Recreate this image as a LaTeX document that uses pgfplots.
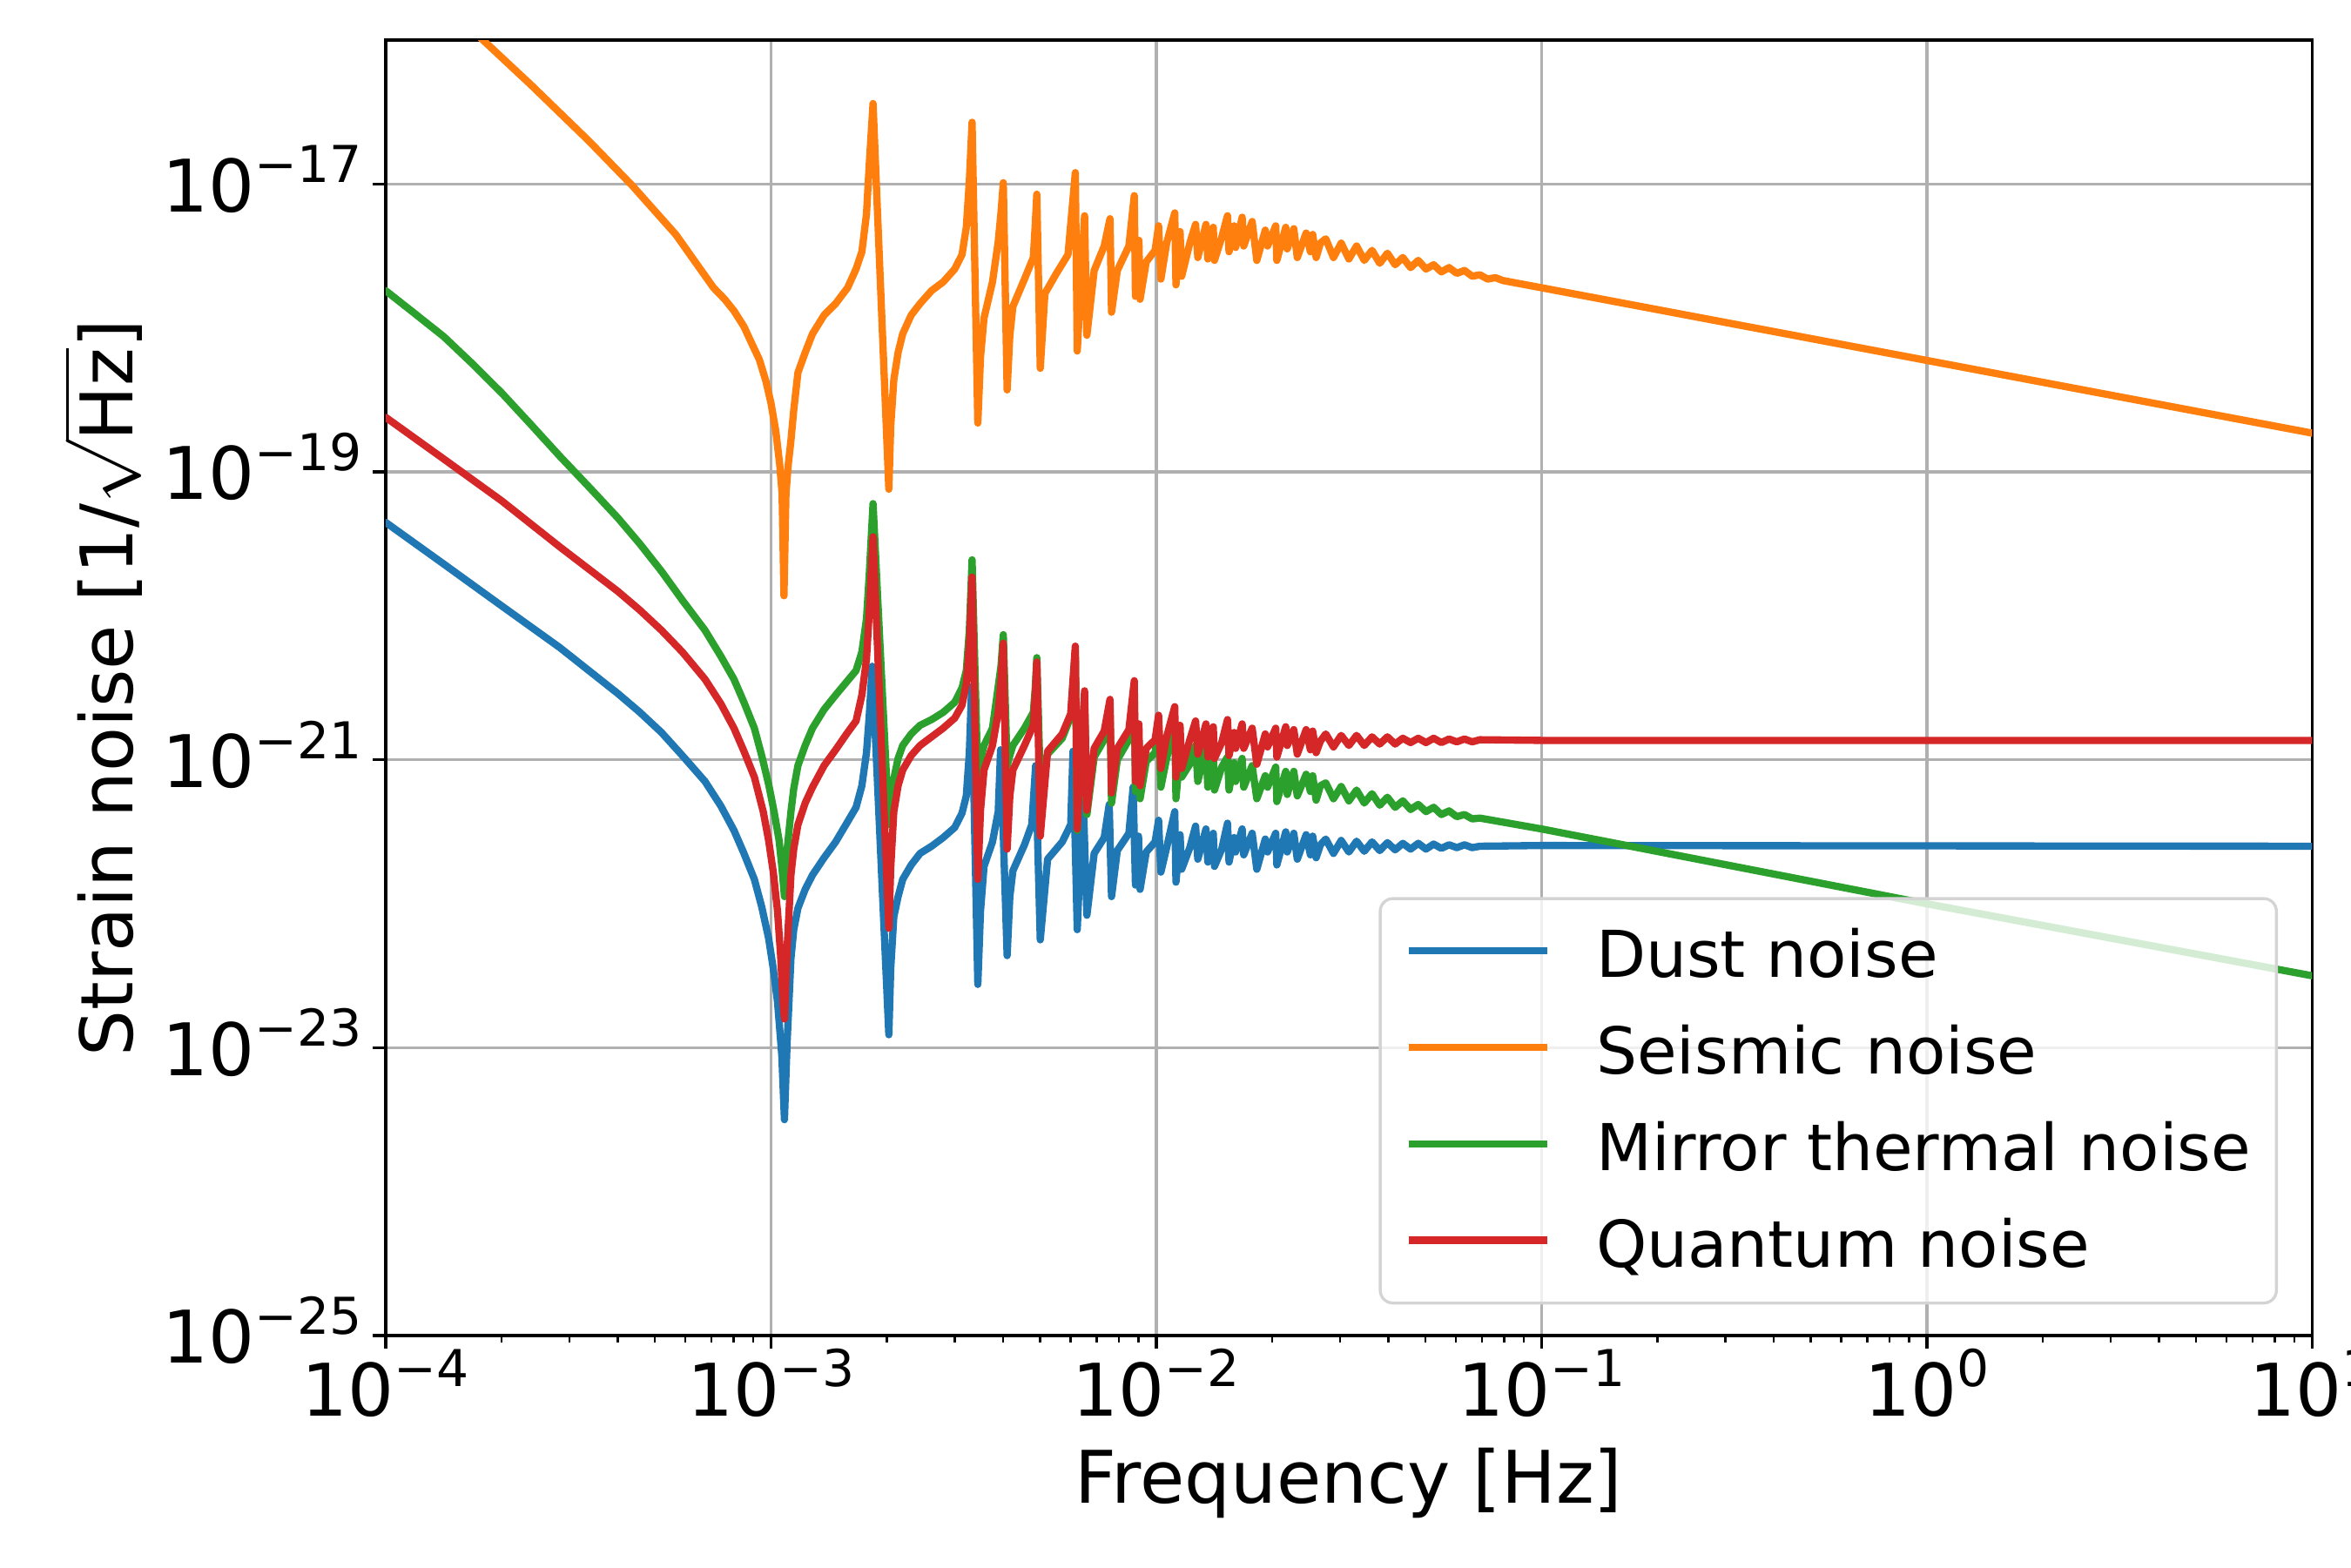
\documentclass[border=0pt]{standalone}
\usepackage{fontspec}
\setmainfont{DejaVu Sans}
\usepackage{pgfplots}
\pgfplotsset{compat=1.18}
\definecolor{c0}{HTML}{1F77B4}
\definecolor{c1}{HTML}{FF7F0E}
\definecolor{c2}{HTML}{2CA02C}
\definecolor{c3}{HTML}{D62728}
\definecolor{gridc}{HTML}{B0B0B0}
\definecolor{legc}{HTML}{D4D4D4}
\newcommand{\tl}[1]{10\raisebox{8pt}{\fontsize{14pt}{14pt}\selectfont #1}}
\begin{document}
\begin{tikzpicture}
\path[use as bounding box] (-106.3pt,-63.84pt) rectangle (541.7pt,368.16pt);
\begin{axis}[
  at={(0pt,0pt)}, anchor=south west,
  scale only axis, width=531pt, height=357.1pt,
  xmode=log, ymode=log,
  xmin=1e-4, xmax=10, ymin=1e-25, ymax=1e-16,
  xtick={1e-4,1e-3,1e-2,1e-1,1,10},
  xticklabels={\tl{−4},\tl{−3},\tl{−2},\tl{−1},\tl{0},\tl{1}},
  minor xtick={2e-4,3e-4,4e-4,5e-4,6e-4,7e-4,8e-4,9e-4,2e-3,3e-3,4e-3,5e-3,6e-3,7e-3,8e-3,9e-3,0.02,0.03,0.04,0.05,0.06,0.07,0.08,0.09,0.2,0.3,0.4,0.5,0.6,0.7,0.8,0.9,2,3,4,5,6,7,8,9},
  ytick={1e-25,1e-23,1e-21,1e-19,1e-17},
  yticklabels={\tl{−25},\tl{−23},\tl{−21},\tl{−19},\tl{−17}},
  tick align=outside, tick pos=left,
  major tick length=3.5pt, minor tick length=2pt,
  tick style={black, line width=0.8pt},
  minor tick style={black, line width=0.6pt},
  axis line style={line width=0.8pt},
  grid=major, major grid style={gridc, line width=0.8pt},
  tick label style={font=\fontsize{20pt}{24pt}\selectfont, inner sep=0pt},
  xticklabel style={anchor=base, yshift=-18.6pt},
  yticklabel style={anchor=base east, xshift=-2.8pt, yshift=-7.6pt},
  every axis x label/.style={at={(axis description cs:0.5,0)}, anchor=base, yshift=-46.3pt, font=\fontsize{20pt}{24pt}\selectfont},
  every axis y label/.style={at={(axis description cs:0,0.5)}, xshift=-69.8pt, rotate=90, anchor=base, font=\fontsize{20pt}{24pt}\selectfont},
  xlabel={Frequency [Hz]},
  ylabel={Strain noise [1/$\sqrt{\mbox{Hz}}$]},
  legend cell align=left,
  legend image code/.code={\path[draw=none,fill=none] (0pt,-11.3pt) rectangle (38pt,8.4pt); \draw[#1, line cap=butt] (0pt,0pt) -- (38pt,0pt);},
  legend style={at={(0.9822,0.024)}, anchor=south east,
    draw=legc, line width=0.8pt, rounded corners=3.5pt,
    fill=white, fill opacity=0.8, text opacity=1,
    inner xsep=7pt, inner ysep=6pt,
    row sep=6.9pt, column sep=12.5pt,
    font=\fontsize{17.8pt}{21pt}\selectfont,
    nodes={inner sep=0pt, text height=14.6pt, text depth=0pt},
    cells={anchor=west}},
  every axis plot/.append style={line width=2pt, line join=round, line cap=round},
]
\addplot[c0] coordinates {
(1e-4,4.467e-20) (1.416e-4,2.291e-20) (2.000e-4,1.175e-20) (2.831e-4,6.03e-21) (4.009e-4,2.884e-21) (4.571e-4,2.138e-21) (5.200e-4,1.549e-21) (5.888e-4,1.072e-21) (6.745e-4,7.08e-22) (7.413e-4,4.786e-22) (8.017e-4,3.236e-22) (8.511e-4,2.239e-22) (9.057e-4,1.479e-22) (9.462e-4,9.55e-23) (9.863e-4,5.75e-23) (1.014e-3,3.548e-23) (1.040e-3,2.089e-23) (1.067e-3,8.91e-24) (1.084e-3,3.162e-24) (1.102e-3,1.122e-23) (1.127e-3,4.169e-23) (1.146e-3,6.61e-23) (1.175e-3,9.33e-23) (1.227e-3,1.259e-22) (1.282e-3,1.585e-22) (1.374e-3,2.089e-22) (1.472e-3,2.692e-22) (1.581e-3,3.715e-22) (1.663e-3,4.677e-22) (1.722e-3,6.61e-22) (1.770e-3,1.122e-21) (1.799e-3,1.995e-21) (1.832e-3,4.467e-21)
(2.023e-3,1.230e-23) (2.046e-3,3.548e-23) (2.084e-3,8.13e-23) (2.138e-3,1.122e-22) (2.198e-3,1.479e-22) (2.312e-3,1.862e-22) (2.438e-3,2.239e-22) (2.612e-3,2.512e-22) (2.799e-3,2.884e-22) (2.999e-3,3.388e-22) (3.133e-3,4.266e-22) (3.214e-3,5.62e-22) (3.273e-3,1.122e-21) (3.319e-3,3.236e-21)
(3.443e-3,2.754e-23) (3.499e-3,8.91e-23) (3.573e-3,1.820e-22) (3.758e-3,2.692e-22) (3.890e-3,4.365e-22) (3.945e-3,1.175e-21) (4.102e-3,4.365e-23) (4.169e-3,1.122e-22) (4.246e-3,1.698e-22) (4.550e-3,2.570e-22) (4.753e-3,3.548e-22) (4.864e-3,9.12e-22) (5.000e-3,5.62e-23) (5.224e-3,2.042e-22) (5.702e-3,2.692e-22) (5.998e-3,3.548e-22) (6.081e-3,1.148e-21) (6.237e-3,6.61e-23) (6.457e-3,5.89e-22) (6.607e-3,8.32e-23) (6.902e-3,2.239e-22) (7.328e-3,2.884e-22) (7.551e-3,4.898e-22) (7.656e-3,1.122e-22) (7.925e-3,2.344e-22) (8.492e-3,3.090e-22) (8.710e-3,6.46e-22) (8.831e-3,1.349e-22) (8.995e-3,2.951e-22) (9.078e-3,1.259e-22) (9.419e-3,2.291e-22) (9.931e-3,2.692e-22) (1.014e-2,3.802e-22) (1.028e-2,1.660e-22) (1.064e-2,2.455e-22) (1.117e-2,4.365e-22) (1.125e-2,1.413e-22) (1.153e-2,3.020e-22) (1.164e-2,1.738e-22) (1.222e-2,2.455e-22) (1.265e-2,3.467e-22) (1.282e-2,2.042e-22) (1.346e-2,3.311e-22) (1.361e-2,1.950e-22) (1.406e-2,3.090e-22) (1.416e-2,1.820e-22) (1.479e-2,2.399e-22) (1.531e-2,3.631e-22) (1.545e-2,1.950e-22) (1.592e-2,2.884e-22) (1.607e-2,2.291e-22) (1.671e-2,3.311e-22) (1.687e-2,2.188e-22) (1.774e-2,3.090e-22) (1.824e-2,1.738e-22) (1.919e-2,2.818e-22) (1.945e-2,2.291e-22) (2.042e-2,3.090e-22) (2.056e-2,1.862e-22) (2.168e-2,3.162e-22) (2.188e-2,2.291e-22) (2.275e-2,3.090e-22) (2.323e-2,2.042e-22) (2.449e-2,3.020e-22) (2.512e-2,2.188e-22) (2.547e-2,2.951e-22) (2.600e-2,2.089e-22) (2.667e-2,2.570e-22)
(2.754e-2,2.818e-22) (2.884e-2,2.239e-22) (3.020e-2,2.754e-22) (3.162e-2,2.291e-22) (3.311e-2,2.723e-22) (3.467e-2,2.317e-22) (3.631e-2,2.692e-22) (3.802e-2,2.344e-22) (3.981e-2,2.661e-22) (4.169e-2,2.371e-22) (4.365e-2,2.630e-22) (4.571e-2,2.399e-22) (4.786e-2,2.630e-22) (5.012e-2,2.399e-22) (5.248e-2,2.600e-22) (5.495e-2,2.427e-22) (5.754e-2,2.570e-22) (6.026e-2,2.455e-22) (6.310e-2,2.570e-22) (6.607e-2,2.455e-22) (6.918e-2,2.512e-22) (0.1,2.541e-22) (10,2.512e-22)
};
\addlegendentry{Dust noise}
\addplot[c1] coordinates {
(1e-4,4.27e-16) (1.742e-4,1.072e-16) (2.382e-4,4.90e-17) (3.365e-4,2.00e-17) (4.365e-4,9.77e-18) (5.662e-4,4.47e-18) (7.096e-4,1.905e-18) (7.586e-4,1.585e-18) (8.017e-4,1.318e-18) (8.511e-4,1.023e-18) (8.892e-4,7.94e-19) (9.333e-4,6.03e-19) (9.705e-4,4.27e-19) (1.000e-3,3.02e-19) (1.030e-3,1.905e-19) (1.054e-3,1.122e-19) (1.069e-3,7.08e-20) (1.081e-3,1.380e-20) (1.094e-3,7.08e-20) (1.109e-3,1.122e-19) (1.127e-3,1.660e-19) (1.146e-3,2.692e-19) (1.175e-3,4.90e-19) (1.227e-3,6.76e-19) (1.282e-3,9.12e-19) (1.374e-3,1.230e-18) (1.472e-3,1.479e-18) (1.581e-3,1.905e-18) (1.663e-3,2.570e-18) (1.722e-3,3.388e-18) (1.770e-3,6.17e-18) (1.799e-3,1.349e-17) (1.841e-3,3.63e-17)
(2.023e-3,7.59e-20) (2.046e-3,2.089e-19) (2.084e-3,4.37e-19) (2.138e-3,6.76e-19) (2.198e-3,9.12e-19) (2.312e-3,1.230e-18) (2.438e-3,1.479e-18) (2.612e-3,1.820e-18) (2.799e-3,2.089e-18) (2.999e-3,2.570e-18) (3.133e-3,3.236e-18) (3.214e-3,5.01e-18) (3.273e-3,1.047e-17) (3.327e-3,2.69e-17)
(3.443e-3,2.188e-19) (3.499e-3,6.31e-19) (3.573e-3,1.175e-18) (3.758e-3,2.089e-18) (3.890e-3,3.98e-18) (3.954e-3,6.31e-18) (4.009e-3,1.023e-17) (4.102e-3,3.72e-19) (4.169e-3,8.91e-19) (4.246e-3,1.413e-18) (4.550e-3,2.188e-18) (4.797e-3,3.09e-18) (4.853e-3,5.25e-18) (4.898e-3,8.51e-18) (5.000e-3,5.25e-19) (5.140e-3,1.738e-18) (5.508e-3,2.399e-18) (5.902e-3,3.236e-18) (6.166e-3,1.202e-17) (6.237e-3,6.92e-19) (6.516e-3,6.03e-18) (6.607e-3,8.91e-19) (6.902e-3,2.512e-18) (7.328e-3,3.715e-18) (7.586e-3,5.75e-18) (7.656e-3,1.288e-18) (7.925e-3,2.512e-18) (8.492e-3,3.715e-18) (8.770e-3,8.32e-18) (8.831e-3,1.660e-18) (9.016e-3,4.07e-18) (9.078e-3,1.585e-18) (9.419e-3,2.884e-18) (9.931e-3,3.467e-18) (1.014e-2,5.13e-18) (1.028e-2,2.188e-18) (1.064e-2,3.89e-18) (1.117e-2,6.31e-18) (1.125e-2,1.995e-18) (1.153e-2,4.68e-18) (1.164e-2,2.291e-18) (1.222e-2,3.89e-18) (1.265e-2,5.25e-18) (1.282e-2,3.09e-18) (1.346e-2,5.25e-18) (1.361e-2,3.02e-18) (1.406e-2,5.01e-18) (1.416e-2,2.951e-18) (1.479e-2,4.27e-18) (1.531e-2,6.03e-18) (1.545e-2,3.39e-18) (1.592e-2,5.13e-18) (1.607e-2,3.63e-18) (1.671e-2,5.89e-18) (1.687e-2,3.715e-18) (1.774e-2,5.50e-18) (1.824e-2,2.951e-18) (1.919e-2,4.79e-18) (1.945e-2,3.715e-18) (2.042e-2,5.13e-18) (2.056e-2,2.951e-18) (2.168e-2,5.01e-18) (2.188e-2,3.55e-18) (2.275e-2,4.90e-18) (2.323e-2,3.09e-18) (2.449e-2,4.57e-18) (2.512e-2,3.39e-18) (2.547e-2,4.47e-18) (2.600e-2,3.09e-18) (2.667e-2,3.89e-18)
(2.754e-2,4.169e-18) (2.884e-2,3.090e-18) (3.020e-2,3.890e-18) (3.162e-2,3.020e-18) (3.311e-2,3.715e-18) (3.467e-2,2.951e-18) (3.631e-2,3.467e-18) (3.802e-2,2.818e-18) (3.981e-2,3.311e-18) (4.169e-2,2.754e-18) (4.365e-2,3.090e-18) (4.571e-2,2.630e-18) (4.786e-2,2.951e-18) (5.012e-2,2.570e-18) (5.248e-2,2.754e-18) (5.495e-2,2.455e-18) (5.754e-2,2.630e-18) (6.026e-2,2.399e-18) (6.310e-2,2.512e-18) (6.607e-2,2.291e-18) (6.918e-2,2.344e-18) (7.244e-2,2.188e-18) (7.586e-2,2.239e-18) (7.943e-2,2.138e-18) (0.1,1.905e-18) (1,5.957e-19) (10,1.862e-19)
};
\addlegendentry{Seismic noise}
\addplot[c2] coordinates {
(1e-4,1.820e-18) (1.191e-4,1.259e-18) (1.416e-4,8.71e-19) (1.683e-4,5.62e-19) (2.000e-4,3.548e-19) (2.382e-4,2.138e-19) (2.831e-4,1.288e-19) (3.388e-4,7.76e-20) (4.009e-4,4.786e-20) (4.571e-4,3.162e-20) (5.200e-4,2.042e-20) (5.888e-4,1.288e-20) (6.745e-4,7.94e-21) (7.413e-4,5.25e-21) (8.017e-4,3.631e-21) (8.511e-4,2.512e-21) (9.057e-4,1.660e-21) (9.462e-4,1.072e-21) (9.863e-4,6.76e-22) (1.019e-3,4.365e-22) (1.050e-3,2.754e-22) (1.069e-3,1.738e-22) (1.084e-3,1.122e-22) (1.102e-3,2.399e-22) (1.127e-3,4.365e-22) (1.146e-3,6.31e-22) (1.175e-3,9.12e-22) (1.227e-3,1.259e-21) (1.282e-3,1.660e-21) (1.374e-3,2.239e-21) (1.472e-3,2.818e-21) (1.581e-3,3.548e-21) (1.663e-3,4.169e-21) (1.722e-3,5.62e-21) (1.770e-3,9.55e-21) (1.799e-3,1.905e-20) (1.841e-3,6.03e-20)
(2.023e-3,3.548e-22) (2.046e-3,5.25e-22) (2.084e-3,7.41e-22) (2.138e-3,1.023e-21) (2.198e-3,1.259e-21) (2.312e-3,1.514e-21) (2.438e-3,1.738e-21) (2.612e-3,1.905e-21) (2.799e-3,2.138e-21) (2.999e-3,2.512e-21) (3.133e-3,3.162e-21) (3.214e-3,4.169e-21) (3.273e-3,7.94e-21) (3.327e-3,2.455e-20)
(3.443e-3,7.41e-22) (3.499e-3,1.0e-21) (3.573e-3,1.259e-21) (3.758e-3,1.660e-21) (3.890e-3,3.236e-21) (3.954e-3,4.467e-21) (4.009e-3,7.41e-21) (4.102e-3,9.12e-22) (4.169e-3,1.072e-21) (4.246e-3,1.259e-21) (4.550e-3,1.660e-21) (4.797e-3,2.138e-21) (4.853e-3,3.162e-21) (4.898e-3,5.13e-21) (5.000e-3,7.08e-22) (5.224e-3,1.096e-21) (5.702e-3,1.413e-21) (5.998e-3,1.995e-21) (6.166e-3,5.75e-21) (6.237e-3,3.236e-22) (6.516e-3,2.754e-21) (6.607e-3,4.169e-22) (6.902e-3,1.047e-21) (7.328e-3,1.380e-21) (7.586e-3,2.399e-21) (7.656e-3,5.01e-22) (7.925e-3,1.000e-21) (8.492e-3,1.380e-21) (8.770e-3,3.162e-21) (8.831e-3,6.03e-22) (9.016e-3,1.413e-21) (9.078e-3,5.37e-22) (9.419e-3,9.77e-22) (9.931e-3,1.122e-21) (1.014e-2,1.660e-21) (1.028e-2,6.46e-22) (1.064e-2,1.023e-21) (1.117e-2,1.778e-21) (1.125e-2,5.37e-22) (1.153e-2,1.122e-21) (1.164e-2,7.59e-22) (1.222e-2,9.33e-22) (1.265e-2,1.259e-21) (1.282e-2,7.08e-22) (1.346e-2,1.202e-21) (1.361e-2,6.46e-22) (1.406e-2,1.122e-21) (1.416e-2,6.17e-22) (1.479e-2,8.91e-22) (1.531e-2,1.047e-21) (1.545e-2,6.17e-22) (1.592e-2,9.55e-22) (1.607e-2,7.08e-22) (1.671e-2,1.023e-21) (1.687e-2,6.46e-22) (1.774e-2,9.12e-22) (1.824e-2,5.37e-22) (1.919e-2,7.76e-22) (1.945e-2,6.46e-22) (2.042e-2,8.91e-22) (2.056e-2,5.13e-22) (2.168e-2,8.32e-22) (2.188e-2,5.75e-22) (2.275e-2,8.32e-22) (2.323e-2,5.62e-22) (2.449e-2,7.94e-22) (2.512e-2,6.03e-22) (2.547e-2,7.76e-22) (2.600e-2,5.25e-22) (2.667e-2,6.61e-22)
(2.754e-2,6.92e-22) (2.884e-2,5.37e-22) (3.020e-2,6.53e-22) (3.162e-2,5.19e-22) (3.311e-2,6.17e-22) (3.467e-2,5.01e-22) (3.631e-2,5.82e-22) (3.802e-2,4.84e-22) (3.981e-2,5.50e-22) (4.169e-2,4.68e-22) (4.365e-2,5.19e-22) (4.571e-2,4.52e-22) (4.786e-2,4.90e-22) (5.012e-2,4.37e-22) (5.248e-2,4.68e-22) (5.495e-2,4.17e-22) (5.754e-2,4.42e-22) (6.026e-2,4.03e-22) (6.310e-2,4.17e-22) (6.607e-2,3.89e-22) (6.918e-2,3.94e-22) (0.1,3.311e-22) (0.3162,1.82e-22) (1,1.0e-22) (10,3.162e-23)
};
\addlegendentry{Mirror thermal noise}
\addplot[c3] coordinates {
(1e-4,2.399e-19) (1.416e-4,1.230e-19) (2.000e-4,6.31e-20) (2.831e-4,3.020e-20) (4.009e-4,1.479e-20) (4.571e-4,1.096e-20) (5.200e-4,7.94e-21) (5.888e-4,5.62e-21) (6.745e-4,3.631e-21) (7.413e-4,2.455e-21) (8.017e-4,1.660e-21) (8.511e-4,1.148e-21) (9.057e-4,7.59e-22) (9.550e-4,4.365e-22) (9.863e-4,2.754e-22) (1.014e-3,1.660e-22) (1.040e-3,8.91e-23) (1.059e-3,4.467e-23) (1.076e-3,1.995e-23) (1.084e-3,1.585e-23) (1.102e-3,5.01e-23) (1.127e-3,1.585e-22) (1.146e-3,2.399e-22) (1.175e-3,3.548e-22) (1.227e-3,5.01e-22) (1.282e-3,6.46e-22) (1.374e-3,9.12e-22) (1.472e-3,1.175e-21) (1.581e-3,1.549e-21) (1.663e-3,1.862e-21) (1.722e-3,2.818e-21) (1.770e-3,5.01e-21) (1.799e-3,1.047e-20) (1.841e-3,3.548e-20)
(2.023e-3,6.76e-23) (2.046e-3,1.778e-22) (2.084e-3,4.365e-22) (2.138e-3,6.61e-22) (2.198e-3,8.51e-22) (2.312e-3,1.072e-21) (2.438e-3,1.259e-21) (2.612e-3,1.445e-21) (2.799e-3,1.660e-21) (2.999e-3,1.950e-21) (3.133e-3,2.399e-21) (3.214e-3,3.388e-21) (3.273e-3,6.31e-21) (3.327e-3,1.862e-20)
(3.443e-3,1.479e-22) (3.499e-3,4.467e-22) (3.573e-3,8.51e-22) (3.758e-3,1.259e-21) (3.890e-3,2.138e-21) (3.954e-3,3.548e-21) (4.009e-3,6.46e-21) (4.102e-3,2.399e-22) (4.169e-3,5.62e-22) (4.246e-3,8.51e-22) (4.550e-3,1.259e-21) (4.797e-3,1.738e-21) (4.853e-3,2.818e-21) (4.898e-3,4.786e-21) (5.000e-3,2.951e-22) (5.224e-3,1.148e-21) (5.702e-3,1.514e-21) (5.998e-3,2.089e-21) (6.166e-3,6.17e-21) (6.237e-3,3.311e-22) (6.516e-3,3.020e-21) (6.607e-3,4.467e-22) (6.902e-3,1.202e-21) (7.328e-3,1.585e-21) (7.586e-3,2.630e-21) (7.656e-3,5.89e-22) (7.925e-3,1.202e-21) (8.492e-3,1.622e-21) (8.770e-3,3.548e-21) (8.831e-3,7.08e-22) (9.016e-3,1.778e-21) (9.078e-3,6.61e-22) (9.419e-3,1.202e-21) (9.931e-3,1.380e-21) (1.014e-2,2.042e-21) (1.028e-2,8.71e-22) (1.064e-2,1.445e-21) (1.117e-2,2.344e-21) (1.125e-2,7.59e-22) (1.153e-2,1.738e-21) (1.164e-2,8.71e-22) (1.222e-2,1.380e-21) (1.265e-2,1.862e-21) (1.282e-2,1.096e-21) (1.346e-2,1.778e-21) (1.361e-2,1.047e-21) (1.406e-2,1.698e-21) (1.416e-2,1.023e-21) (1.479e-2,1.318e-21) (1.531e-2,1.905e-21) (1.545e-2,1.072e-21) (1.592e-2,1.549e-21) (1.607e-2,1.202e-21) (1.671e-2,1.778e-21) (1.687e-2,1.202e-21) (1.774e-2,1.660e-21) (1.824e-2,9.33e-22) (1.919e-2,1.514e-21) (1.945e-2,1.230e-21) (2.042e-2,1.660e-21) (2.056e-2,1.047e-21) (2.168e-2,1.698e-21) (2.188e-2,1.259e-21) (2.275e-2,1.622e-21) (2.323e-2,1.096e-21) (2.449e-2,1.622e-21) (2.512e-2,1.175e-21) (2.547e-2,1.585e-21) (2.600e-2,1.122e-21) (2.667e-2,1.349e-21)
(2.754e-2,1.514e-21) (2.884e-2,1.230e-21) (3.020e-2,1.479e-21) (3.162e-2,1.259e-21) (3.311e-2,1.479e-21) (3.467e-2,1.259e-21) (3.631e-2,1.445e-21) (3.802e-2,1.288e-21) (3.981e-2,1.445e-21) (4.169e-2,1.288e-21) (4.365e-2,1.413e-21) (4.571e-2,1.318e-21) (4.786e-2,1.413e-21) (5.012e-2,1.318e-21) (5.248e-2,1.413e-21) (5.495e-2,1.318e-21) (5.754e-2,1.396e-21) (6.026e-2,1.334e-21) (6.310e-2,1.396e-21) (6.607e-2,1.334e-21) (6.918e-2,1.380e-21) (0.1,1.365e-21) (10,1.365e-21)
};
\addlegendentry{Quantum noise}
\end{axis}
\end{tikzpicture}
\end{document}
